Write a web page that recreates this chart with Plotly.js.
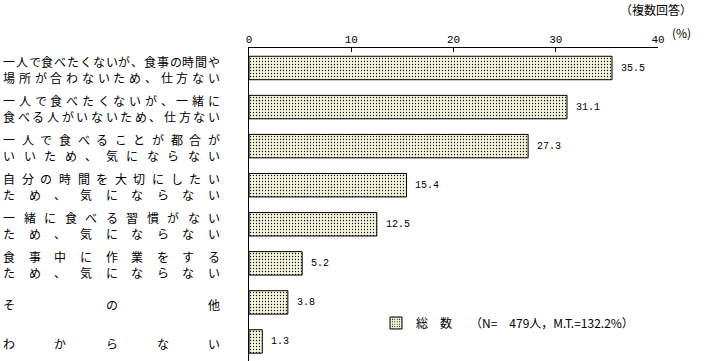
<!DOCTYPE html>
<html>
<head>
<meta charset="utf-8">
<script src="https://cdn.plot.ly/plotly-3.0.1.min.js"></script>
<style>html,body{margin:0;padding:0;background:#fff;}#chart{width:713px;height:361px;}</style>
</head>
<body>
<div id="chart"></div>
<script>
// ---- data ----
const categories = [
  "一人で食べたくないが、食事の時間や場所が合わないため、仕方ない",
  "一人で食べたくないが、一緒に食べる人がいないため、仕方ない",
  "一人で食べることが都合がいいため、気にならない",
  "自分の時間を大切にしたいため、気にならない",
  "一緒に食べる習慣がないため、気にならない",
  "食事中に作業をするため、気にならない",
  "その他",
  "わからない"
];
const labelLines = [
  ["一人で食べたくないが、食事の時間や", "場所が合わないため、仕方ない"],
  ["一人で食べたくないが、一緒に", "食べる人がいないため、仕方ない"],
  ["一人で食べることが都合が", "いいため、気にならない"],
  ["自分の時間を大切にしたい", "ため、気にならない"],
  ["一緒に食べる習慣がない", "ため、気にならない"],
  ["食事中に作業をする", "ため、気にならない"],
  ["その他"],
  ["わからない"]
];
const values = [35.5, 31.1, 27.3, 15.4, 12.5, 5.2, 3.8, 1.3];
const valueLabels = ["35.5", "31.1", "27.3", "15.4", "12.5", "5.2", "3.8", "1.3"];
const seriesName = "総　数　　（N=　479人，M.T.=132.2%）";
const noteText = "（複数回答）";
const unitText = "(%)";
const xTicks = [0, 10, 20, 30, 40];

// ---- layout helpers ----
const W = 713, H = 361;
const M = {l: 249, r: 55, t: 48, b: 0};
const PW = W - M.l - M.r, PH = H - M.t - M.b;
const px2paperX = px => (px - M.l) / PW;
const py2paperY = py => (H - M.b - py) / PH;

const JP = '"Noto Sans CJK JP", "Noto Sans CJK SC", sans-serif';
const NUM = '"Liberation Mono", "DejaVu Sans Mono", monospace';

const annotations = [];
// category labels, distributed across the label column
const colLeft = 9, colRight = 214;
labelLines.forEach((lines, ci) => {
  const shifts = lines.length === 2 ? [6.5, -9.5] : [-2.5];
  lines.forEach((line, li) => {
    const chars = Array.from(line);
    const n = chars.length;
    chars.forEach((ch, k) => {
      const cx = n === 1 ? colLeft : colLeft + k * (colRight - colLeft) / (n - 1);
      annotations.push({
        text: ch, xref: 'paper', x: px2paperX(cx), xanchor: 'center',
        yref: 'y', y: categories[ci], yanchor: 'middle', yshift: shifts[li],
        showarrow: false, font: {family: JP, size: 12, color: '#000'}
      });
    });
  });
});
// value labels
values.forEach((v, i) => {
  annotations.push({
    text: valueLabels[i], xref: 'x', x: v, xanchor: 'left', xshift: 7,
    yref: 'y', y: categories[i], yanchor: 'middle',
    showarrow: false, font: {family: NUM, size: 10, color: '#000'}
  });
});
annotations.push({
  text: noteText, xref: 'paper', x: px2paperX(694), xanchor: 'right',
  yref: 'paper', y: py2paperY(10), yanchor: 'middle',
  showarrow: false, font: {family: JP, size: 12, color: '#000'}
});
annotations.push({
  text: unitText, xref: 'paper', x: px2paperX(693), xanchor: 'right',
  yref: 'paper', y: py2paperY(33), yanchor: 'middle',
  showarrow: false, font: {family: JP, size: 12, color: '#000'}
});

const trace = {
  type: 'bar', orientation: 'h',
  x: values, y: categories, name: seriesName,
  marker: {
    color: '#f4f7da',
    line: {color: '#000', width: 1},
    pattern: {shape: '.', size: 3, solidity: 0.15, fgcolor: '#000', bgcolor: '#f4f7da', fillmode: 'replace'}
  },
  width: 0.6,
  hoverinfo: 'none',
  showlegend: true
};

const layout = {
  width: W, height: H,
  margin: M,
  paper_bgcolor: '#fff', plot_bgcolor: '#fff',
  font: {family: JP, size: 12, color: '#000'},
  showlegend: true,
  legend: {
    x: px2paperX(376), xanchor: 'left',
    y: py2paperY(323), yanchor: 'middle',
    bgcolor: 'rgba(0,0,0,0)', borderwidth: 0,
    font: {family: JP, size: 12, color: '#000'}
  },
  xaxis: {
    side: 'top', range: [0, 40], tickvals: xTicks, ticktext: xTicks.map(String),
    ticks: 'inside', ticklen: 4, tickcolor: '#000', tickwidth: 1,
    showline: true, linecolor: '#000', linewidth: 1,
    showgrid: false, zeroline: false,
    tickfont: {family: NUM, size: 11, color: '#000'}
  },
  yaxis: {
    type: 'category', autorange: 'reversed',
    showticklabels: false, ticks: '',
    showline: true, linecolor: '#000', linewidth: 1,
    showgrid: false, zeroline: false
  },
  annotations: annotations
};

Plotly.newPlot('chart', [trace], layout, {displayModeBar: false, staticPlot: true});
</script>
</body>
</html>
